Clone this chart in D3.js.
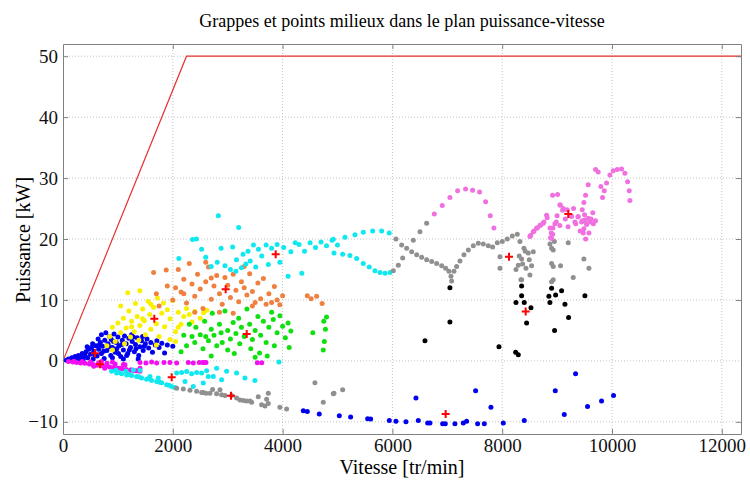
<!DOCTYPE html>
<html>
<head>
<meta charset="utf-8">
<script src="https://cdn.jsdelivr.net/npm/d3@7"></script>
<style>
  body { margin: 0; background: #fff; }
  svg { display: block; font-family: "Liberation Serif", "Times New Roman", serif; }
</style>
</head>
<body>
<svg id="chart" width="750" height="480"></svg>
<script>
// x : vitesse [tr/min], y : puissance [kW]
var xTicks = [0, 2000, 4000, 6000, 8000, 10000, 12000];
var yTicks = [-10, 0, 10, 20, 30, 40, 50];

// courbe enveloppe puissance max
var limitSpeed = [0, 2250, 12350];
var limitPower = [0, 50, 50];

var blueLow = [[60,0.1],[100,0.3],[130,0.1],[160,0.5],[200,0.2],[220,0.7],[250,0.4],[280,0.9],[300,0.1],[320,0.6],
  [350,1.2],[370,0.3],[400,0.9],[420,1.5],[450,0.5],[470,1.9],[500,1.1],[520,2.2],[550,0.3],[560,1.6],
  [600,2.5],[620,0.8],[650,1.9],[680,3.0],[700,1.2],[720,2.4],[750,0.4],[760,3.4],[800,1.7],[820,2.8],
  [850,4.0],[870,0.9],[880,3.5],[900,2.2],[930,4.4],[950,1.4],[970,3.0],[1000,3.9],[1020,2.5],[1050,0.7],
  [1080,3.4],[1100,1.8],[1120,4.1],[1150,2.8],[1180,1.2],[1200,3.7],[1230,2.2],[1260,3.2],[1300,1.5],[1320,2.7],
  [1350,3.8],[1380,0.9],[1400,2.3],[1430,3.3],[1460,1.7],[1500,2.8],[1530,3.6],[1560,2.1],[1600,3.0],[1630,1.4],
  [1680,2.6],[1710,3.3],[1750,2.2],[1800,2.9],[1850,1.3],[1900,2.6],[2000,2.4],[1370,0.3],[1100,0.3],[900,0.5],
  [1250,4.3],[1450,4.0],[700,4.3],[780,4.6],[640,3.6],[540,2.8],[440,2.3],[980,2.0],[1160,0.9],[1330,2.0],
  [580,1.0],[660,2.6],[740,1.6],[840,2.3],[920,3.2],[1010,1.2],[1070,2.7],[1210,1.8],[1280,3.9],[1480,2.4]];

var magenta = [[100,-0.1],[180,-0.2],[250,-0.25],[320,-0.35],[400,-0.4],[480,-0.5],[550,-0.6],[620,-0.7],[700,-0.8],[780,-0.9],
  [850,-1.0],[920,-1.1],[1000,-1.2],[1080,-1.3],[1150,-1.4],[1230,-1.5],[1300,-1.6],[1400,-1.7],[200,-0.05],[350,-0.1],
  [500,-0.2],[650,-0.3],[800,-0.4],[950,-0.5],[1100,-0.6],[700,-0.1],[900,-0.2],[560,-0.9],[760,-1.2],[980,-1.5],
  [1402,-0.25],[1511,-0.36],[1614,-0.2],[1706,-0.36],[1839,-0.25],[1948,-0.25],[2070,-0.36],[2282,-0.25],[2373,-0.36],[2482,-0.25],
  [2586,-0.25],[1129,-0.65],[1250,-1.5],[1341,-1.6],[1402,-1.2],[1038,-1.2],[2544,-0.27],[2604,-0.27],[3540,-0.3],[3620,-0.3]];

var cyanLow = [[886,-1.7],[977,-2.0],[1068,-2.1],[1159,-2.3],[1250,-2.4],[1341,-2.55],[1432,-2.8],[1523,-3.0],[1614,-3.2],[1706,-3.4],
  [1797,-3.6],[1888,-3.9],[1979,-4.2],[2039,-4.35],[965,-1.55],[1147,-1.7],[1281,-1.5],[1402,-1.55],[1584,-2.55],[1736,-2.8],
  [2070,-2.0],[2161,-1.9],[2252,-1.75],[2343,-2.1],[2434,-1.9],[2525,-2.0],[2616,-1.6],[2798,-1.2],[2737,-2.55],[2889,-3.1],
  [2980,-1.7],[3162,-2.0],[3314,-2.8],[3496,-3.2],[2373,-4.2],[2555,-3.65],[2222,-3.4],[2646,-2.55],[3934,-0.2],[1020,-1.9],
  [1200,-2.2],[1380,-2.6],[1560,-2.9],[1760,-3.5],[1930,-4.0]];

var yellow = [[800,2.5],[850,4.0],[900,5.5],[950,3.2],[1000,6.2],[1050,4.6],[1100,7.0],[1120,2.8],[1150,5.4],[1200,8.2],
  [1230,3.9],[1250,6.5],[1300,4.8],[1320,9.4],[1350,7.3],[1380,3.4],[1400,5.8],[1450,8.5],[1480,6.6],[1500,4.3],
  [1550,9.8],[1580,7.6],[1600,5.2],[1650,8.8],[1700,6.1],[1720,10.3],[1750,4.0],[1800,7.8],[1830,9.5],[1850,5.6],
  [1900,8.4],[1950,6.9],[2000,9.9],[2050,4.8],[2100,8.0],[2150,6.0],[2200,7.3],[2250,8.6],[2300,7.6],[2350,6.4],
  [2400,8.1],[2500,7.0],[2560,7.9],[2620,8.3],[1050,9.0],[900,1.8],[1180,11.2],[1400,11.5],[2050,3.2],[1700,2.6],
  [1950,3.5],[1250,5.6],[1450,6.9],[1600,9.3],[2100,5.5]];

var orange = [[1650,14.5],[1700,11.0],[1750,9.0],[1880,14.9],[1900,12.3],[2000,10.0],[2050,12.0],[2100,15.0],[2150,11.3],[2200,13.4],
  [2250,9.5],[2300,16.0],[2350,12.6],[2400,10.6],[2450,14.2],[2500,11.8],[2550,8.6],[2600,13.0],[2650,15.4],[2700,10.1],
  [2750,12.3],[2800,14.0],[2850,11.0],[2900,9.3],[2950,13.7],[3000,12.4],[3050,10.4],[3100,14.2],[3150,11.6],[3200,9.7],
  [3250,13.0],[3300,12.0],[3350,10.8],[3400,14.3],[3450,11.4],[3500,9.6],[3550,12.8],[3600,10.2],[3650,13.5],[3700,9.3],
  [3750,11.0],[3800,9.6],[3850,12.2],[3900,10.0],[3950,9.2],[4000,10.7],[2400,8.0],[2850,8.0],[3100,7.8],[4450,10.7],
  [4520,10.2],[4620,10.6],[4720,9.4],[2600,16.2],[3300,15.5],[2200,11.0],[2700,13.6],[3450,9.0]];

var green = [[2150,1.5],[2200,4.2],[2250,2.5],[2300,6.0],[2350,4.0],[2400,3.0],[2420,5.5],[2500,4.3],[2550,2.0],[2580,6.5],
  [2600,4.0],[2650,3.3],[2700,5.2],[2720,7.8],[2750,4.2],[2800,2.5],[2850,6.0],[2880,4.6],[2900,3.0],[2950,8.2],
  [3000,5.0],[3050,3.6],[3100,6.3],[3120,1.2],[3150,4.5],[3200,7.0],[3220,2.8],[3250,5.5],[3300,4.0],[3350,8.5],
  [3400,6.0],[3420,2.0],[3450,3.5],[3500,5.0],[3550,7.3],[3580,1.3],[3600,4.2],[3650,6.5],[3700,3.0],[3720,0.8],
  [3750,5.5],[3800,8.0],[3830,6.8],[3850,2.5],[3900,4.6],[3950,7.4],[4000,5.7],[4050,3.8],[4100,6.2],[4120,2.2],
  [4150,4.9],[4750,6.5],[4780,5.2],[4760,3.2],[4740,1.8],[4800,7.2],[4550,4.6],[3500,0.6],[3000,1.8],[2700,0.8]];

var grayLow = [[2070,-4.5],[2191,-4.6],[2313,-4.8],[2434,-5.0],[2555,-5.2],[2677,-5.3],[2725,-4.7],[2798,-5.4],[2889,-5.55],[2950,-5.7],
  [3162,-6.1],[3223,-6.4],[3284,-6.5],[3344,-6.6],[3405,-6.6],[3557,-5.9],[3709,-6.3],[3739,-5.3],[3739,-7.0],[3951,-7.6],
  [4073,-7.9],[4589,-3.6],[4741,-6.8],[4923,-5.4],[2525,-5.2],[2604,-5.3],[2859,-4.75],[3072,-5.7],[3436,-6.8],[3618,-7.2],
  [3679,-7.4],[5094,-4.75],[4936,-5.3]];

var cyanHigh = [[2110,16.8],[2360,19.9],[2430,20.0],[2525,18.3],[2600,17.0],[2810,16.2],[2830,23.8],[2880,18.5],[2950,15.6],[3090,18.7],
  [3160,16.6],[3200,21.9],[3250,15.3],[3280,17.5],[3330,15.9],[3370,18.0],[3410,16.4],[3470,19.0],[3510,15.4],[3560,18.3],
  [3620,17.2],[3700,19.0],[3740,15.8],[3800,18.5],[3900,19.1],[3950,16.2],[4100,13.9],[4020,18.6],[4150,17.9],[4230,19.4],
  [4350,14.4],[4400,18.0],[4500,19.4],[4600,18.6],[4700,19.5],[4800,18.9],[4900,19.8],[5000,19.0],[4300,19.1],[3050,15.0],
  [3150,14.7],[2700,15.5],[4924,19.96],[5136,20.3],[5318,20.7],[5470,21.1],[5640,21.3],[5804,21.3],[5943,21.0],[4936,17.7],
  [5094,17.5],[5227,17.3],[5349,16.8],[5470,16.0],[5579,15.4],[5682,14.8],[5774,14.5],[5865,14.4],[5956,14.5]];

var grayHigh = [[6017,14.8],[6108,15.7],[6187,16.9],[6065,20.0],[6169,19.0],[6260,18.5],[6351,17.9],[6442,17.4],[6533,17.0],[6624,16.6],
  [6715,16.3],[6806,16.0],[6897,15.6],[6970,15.2],[7030,14.7],[7067,13.9],[7079,13.1],[6381,19.8],[6502,21.2],[6624,22.6],
  [7122,14.7],[7170,15.5],[7231,16.4],[7304,17.4],[7383,18.2],[7474,18.9],[7565,19.3],[7656,19.2],[7747,18.9],[7826,18.7],
  [7911,19.4],[8002,19.6],[8093,20.0],[8184,20.5],[8275,20.8],[7959,17.1],[7959,15.2],[8323,19.6],[8396,18.5],[8475,17.7],
  [8354,16.7],[8293,15.7],[8251,15.0],[8372,15.9],[8493,16.6],[8566,17.9],[8536,15.6],[8433,15.2],[8354,13.3],[8930,18.2],
  [8900,16.0],[8930,13.3],[8341,13.3],[8505,14.1],[8930,15.5],[9063,15.6],[8900,13.0],[9294,13.7],[9488,16.7],[9580,15.2],
  [9203,19.4],[8900,18.5],[8870,19.2],[8950,19.6],[8420,18.0],[8310,17.2]];

var black = [[7048,12.0],[7048,6.4],[6593,3.3],[7941,2.3],[8245,1.4],[8293,1.0],[8354,12.3],[8354,10.7],[8251,9.6],[8402,9.6],
  [8524,8.7],[8445,6.2],[8900,11.9],[8973,10.8],[8851,10.6],[8869,9.6],[9082,11.5],[9143,9.3],[9209,7.1],[8954,5.0],
  [9507,10.7]];

var pink = [[6763,24.1],[6909,25.5],[7048,26.8],[7188,27.9],[7333,28.2],[7461,28.0],[7588,27.7],[7698,26.1],[7783,23.8],[7849,21.8],
  [8505,20.4],[8566,21.2],[8627,21.8],[8688,22.2],[8748,22.6],[8809,23.9],[8918,27.2],[9009,27.3],[9051,25.6],[9112,25.0],
  [9185,24.8],[9264,23.7],[9325,22.8],[9385,23.7],[9446,22.8],[9507,23.1],[9567,23.4],[9476,21.0],[9488,21.7],[9537,22.5],
  [9598,22.8],[8985,22.8],[8924,21.8],[8894,21.0],[8900,20.1],[9458,24.8],[9488,26.0],[9519,27.2],[9567,28.9],[9701,31.4],
  [9749,31.0],[9798,28.6],[9859,27.9],[9828,26.8],[9901,29.2],[9962,30.5],[10022,31.2],[10095,31.4],[10174,31.5],[10235,30.8],
  [10284,29.4],[10314,27.9],[10326,26.3],[8520,20.6],[8580,21.3],[8640,21.8],[8700,22.3],[8760,22.8],[8820,23.5],[8870,21.8],
  [8920,20.8],[8960,22.5],[9000,23.8],[9050,22.2],[9100,24.7],[9150,23.3],[9200,22.0],[9250,23.8],[9300,25.0],[9340,22.5],
  [9380,23.6],[9420,21.3],[9460,23.0],[9500,24.0],[9540,22.4],[9580,21.0],[9620,23.3],[9660,22.5],[9700,23.0],[9520,20.0],
  [9650,24.3],[9060,25.6],[8880,20.2]];

var blueHigh = [[4377,-8.2],[4450,-8.3],[4668,-8.7],[5033,-9.0],[5239,-9.2],[5549,-9.5],[5604,-9.55],[5944,-9.8],[6065,-9.9],[6247,-10.0],
  [6472,-9.8],[6642,-10.2],[6684,-10.2],[6915,-10.3],[6963,-10.3],[7139,-10.3],[7291,-10.2],[7352,-9.9],[7552,-10.3],[7674,-10.3],
  [8020,-10.2],[8402,-9.8],[6429,-6.1],[7516,-4.9],[7795,-7.6],[8967,-4.9],[9131,-8.8],[9337,-2.1],[9555,-7.5],[9810,-6.6],
  [10028,-5.7]];

// points milieux (centres des grappes)
var centerSpeed = [583, 674, 1980, 1663, 2963, 3346, 3060, 3874, 8124, 8428, 9204, 6970];
var centerPower = [1.26, -0.55, -2.67, 6.9, 11.75, 4.4, -5.74, 17.5, 17.1, 8.1, 24.1, -8.7];

var clusters = [
  {pts: blueLow, color: "#0000ee"},
  {pts: magenta, color: "#f010f0"},
  {pts: cyanLow, color: "#10e8f0"},
  {pts: yellow, color: "#f8f000"},
  {pts: orange, color: "#f08040"},
  {pts: green, color: "#10e010"},
  {pts: grayLow, color: "#909090"},
  {pts: cyanHigh, color: "#10e8f0"},
  {pts: grayHigh, color: "#909090"},
  {pts: black, color: "#000000"},
  {pts: pink, color: "#f070e0"},
  {pts: blueHigh, color: "#0000ee"}
];

var svg = d3.select("#chart");
var L = 63, R = 741, T = 44, B = 434;

var x = d3.scaleLinear().domain([0, 12350]).range([L, R]);
var y = d3.scaleLinear().domain([-12, 52]).range([B, T]);

// grille pointillee
var grid = svg.append("g");
grid.selectAll(".vg").data(xTicks.filter(function(d){ return d > 0; })).enter().append("line")
    .attr("x1", function(d){ return x(d); }).attr("x2", function(d){ return x(d); })
    .attr("y1", T).attr("y2", B)
    .style("stroke", "#c4c4c4").style("stroke-dasharray", "1,2");
grid.selectAll(".hg").data(yTicks).enter().append("line")
    .attr("x1", L).attr("x2", R)
    .attr("y1", function(d){ return y(d); }).attr("y2", function(d){ return y(d); })
    .style("stroke", "#c4c4c4").style("stroke-dasharray", "1,2");

// enveloppe
var line = d3.line().x(function(d){ return x(d[0]); }).y(function(d){ return y(d[1]); });
svg.append("path")
    .datum(limitSpeed.map(function(s, i){ return [s, limitPower[i]]; }))
    .attr("d", line)
    .style("fill", "none").style("stroke", "#e83030").style("stroke-width", 1.2);

// grappes
clusters.forEach(function(c){
    svg.append("g").selectAll("circle").data(c.pts).enter().append("circle")
        .attr("cx", function(d){ return x(d[0]); })
        .attr("cy", function(d){ return y(d[1]); })
        .attr("r", 2.5)
        .style("fill", c.color);
});

// centres
svg.append("g").selectAll("path").data(centerSpeed).enter().append("path")
    .attr("d", function(d, i){
        var cx = x(d), cy = y(centerPower[i]);
        return "M" + (cx - 4) + "," + cy + "H" + (cx + 4) + "M" + cx + "," + (cy - 4) + "V" + (cy + 4);
    })
    .style("stroke", "#ff0000").style("stroke-width", 2);

// axes (style matlab: graduations interieures sur les 4 cotes)
var axisColor = "#808080";
var fmt = d3.format("d");
var xb = svg.append("g").attr("transform", "translate(0," + B + ")")
    .call(d3.axisBottom(x).tickValues(xTicks).tickFormat(fmt).tickSizeInner(-5).tickSizeOuter(0).tickPadding(5));
var xt = svg.append("g").attr("transform", "translate(0," + T + ")")
    .call(d3.axisTop(x).tickValues(xTicks).tickSizeInner(-5).tickSizeOuter(0).tickFormat(""));
var yl = svg.append("g").attr("transform", "translate(" + L + ",0)")
    .call(d3.axisLeft(y).tickValues(yTicks).tickFormat(fmt).tickSizeInner(-5).tickSizeOuter(0).tickPadding(5));
var yr = svg.append("g").attr("transform", "translate(" + R + ",0)")
    .call(d3.axisRight(y).tickValues(yTicks).tickSizeInner(-5).tickSizeOuter(0).tickFormat(""));

[xb, xt, yl, yr].forEach(function(a){
    a.select(".domain").style("stroke", axisColor);
    a.selectAll(".tick line").style("stroke", axisColor);
    a.selectAll(".tick text")
        .style("font-family", "'Liberation Serif', serif")
        .style("font-size", "19px")
        .style("fill", "#111");
});
svg.selectAll(".tick").filter(function(d){ return d === 0; }).select("line").remove();

// titres
svg.append("text")
    .attr("x", 402).attr("y", 27)
    .attr("text-anchor", "middle")
    .style("font-size", "18px")
    .text("Grappes et points milieux dans le plan puissance-vitesse");
svg.append("text")
    .attr("x", 402).attr("y", 474)
    .attr("text-anchor", "middle")
    .style("font-size", "20px")
    .text("Vitesse [tr/min]");
svg.append("text")
    .attr("transform", "translate(30,240) rotate(-90)")
    .attr("text-anchor", "middle")
    .style("font-size", "20px")
    .text("Puissance [kW]");
</script>
</body>
</html>
